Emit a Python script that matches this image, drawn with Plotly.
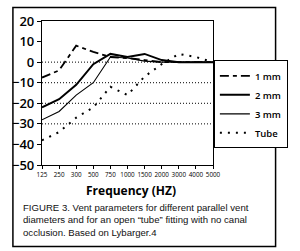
import plotly.graph_objects as go

freqs = ["125", "250", "300", "500", "750", "1000", "1500", "2000", "3000", "4000", "5000"]
mm1 = [-7.5, -4, 8, 5, 2.5, 2, 1, 0, 0, 0, 0]
mm2 = [-22, -18, -11, -1, 4, 2.5, 4, 1, 0, 0, 0]
mm3 = [-28, -24, -16, -10, 2.5, 2, 0.5, 0, 0, 0, 0]
tube = [-38, -34, -27, -22, -12, -16, -7, -1, 4, 2.5, 0]
grid_vals = [0, -10, -20, -30]

W, H = 300, 251
ml, mr, mt, mb = 34, 72, 15, 86
pw, ph = W - ml - mr, H - mt - mb

fig = go.Figure()
fig.add_trace(go.Scatter(x=freqs, y=mm1, name="1 mm", mode="lines",
                         line=dict(color="black", width=1.8, dash="9px,4px,4px,4px")))
fig.add_trace(go.Scatter(x=freqs, y=mm2, name="2 mm", mode="lines",
                         line=dict(color="black", width=2)))
fig.add_trace(go.Scatter(x=freqs, y=mm3, name="3 mm", mode="lines",
                         line=dict(color="black", width=1.1)))
fig.add_trace(go.Scatter(x=freqs, y=tube, name="Tube", mode="lines",
                         line=dict(color="black", width=2, dash="2px,6px")))

for g in grid_vals:
    fig.add_shape(type="line", xref="paper", yref="y", x0=0, x1=1, y0=g, y1=g,
                  line=dict(color="black", width=1, dash="1px,2px"), layer="below")

# outer border
fig.add_shape(type="rect", xref="paper", yref="paper",
              x0=-(ml - 1) / pw, x1=1 + (mr - 1) / pw,
              y0=-(mb - 1) / ph, y1=1 + (mt - 1) / ph,
              line=dict(color="black", width=1.5))

fig.add_annotation(xref="paper", yref="paper", x=0.52, y=-(192 - mt - ph) / ph,
                   text="<b>Frequency (HZ)</b>", showarrow=False,
                   font=dict(family="Open Sans", size=12, color="black"),
                   xanchor="center", yanchor="middle")
fig.add_annotation(xref="paper", yref="paper", x=-(ml - 10) / pw, y=1 - (201 - mt) / ph,
                   text="FIGURE 3. Vent parameters for different parallel vent<br>"
                        "diameters and for an open \u201ctube\u201d fitting with no canal<br>"
                        "occlusion. Based on Lybarger.4",
                   showarrow=False, align="left", xanchor="left", yanchor="top",
                   font=dict(family="Liberation Sans", size=9.6, color="#111"))

fig.update_layout(
    width=W, height=H,
    margin=dict(l=ml, r=mr, t=mt, b=mb),
    paper_bgcolor="white", plot_bgcolor="white",
    showlegend=True,
    legend=dict(x=1 + 1 / pw, y=1 - (56 - mt) / ph, xanchor="left", yanchor="top",
                bordercolor="black", borderwidth=1, bgcolor="white",
                font=dict(family="Open Sans", size=9.5, color="black", weight=600),
                itemwidth=30, tracegroupgap=0),
    xaxis=dict(type="category", showline=True, linecolor="black", linewidth=1.2,
               mirror=True, ticks="outside", ticklen=3, tickcolor="black", tickangle=0,
               tickfont=dict(family="Open Sans", size=6.3, color="black"),
               showgrid=False, zeroline=False, fixedrange=True),
    yaxis=dict(range=[-50, 20], dtick=10, showline=True, linecolor="black", linewidth=1.2,
               mirror=True, ticks="outside", ticklen=4, tickcolor="black",
               tickfont=dict(family="Open Sans", size=13, color="black", weight=600),
               showgrid=False, zeroline=False, fixedrange=True),
)

fig.write_html("out.html", config={"displayModeBar": False})
